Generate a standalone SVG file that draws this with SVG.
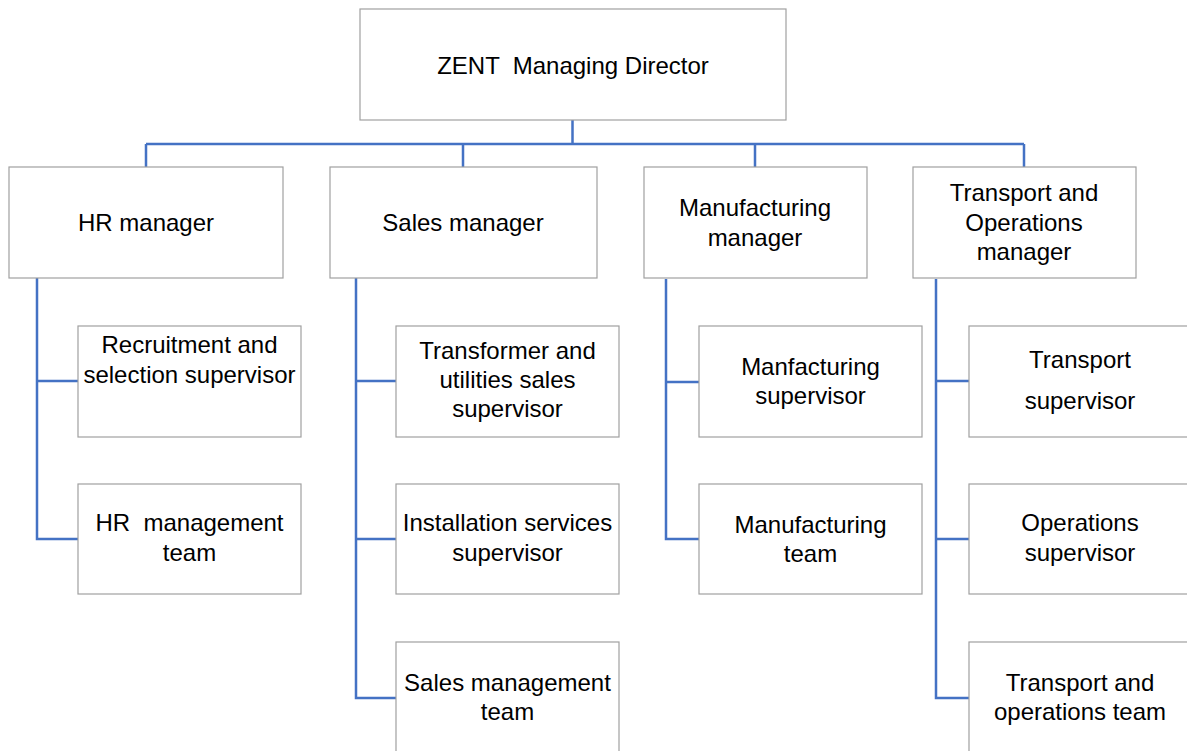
<svg xmlns="http://www.w3.org/2000/svg" width="1187" height="751" viewBox="0 0 1187 751">
<style>
.box{fill:#ffffff;stroke:#a0a0a0;stroke-width:1.2}
.conn{fill:none;stroke:#4472c4;stroke-width:2.5}
text{font-family:"Liberation Sans",Arial,sans-serif;font-size:24px;fill:#000;text-anchor:middle;white-space:pre}
</style>
<rect width="1187" height="751" fill="#ffffff"/>
<g id="connectors">
<path class="conn" d="M572.5 120V144M146 144H1024M146 144V167M463 144V167M755 144V167M1024 144V167"/>
<path class="conn" d="M37 278V539H78M37 381H78"/>
<path class="conn" d="M356 278V698H396M356 381H396M356 539H396"/>
<path class="conn" d="M666 279V539H699M666 382H699"/>
<path class="conn" d="M936 279V698H969M936 381H969M936 539H969"/>
</g>
<g id="md"><rect class="box" x="360" y="9" width="426" height="111"/><text x="573" y="74" xml:space="preserve">ZENT  Managing Director</text></g>
<g id="hr"><rect class="box" x="9" y="167" width="274" height="111"/><text x="146" y="231">HR manager</text></g>
<g id="sales"><rect class="box" x="330" y="167" width="267" height="111"/><text x="463" y="231">Sales manager</text></g>
<g id="manuf"><rect class="box" x="644" y="167" width="223" height="111"/><text x="755" y="216">Manufacturing</text><text x="755" y="246">manager</text></g>
<g id="transport"><rect class="box" x="913" y="167" width="223" height="111"/><text x="1024" y="201">Transport and</text><text x="1024" y="231">Operations</text><text x="1024" y="260">manager</text></g>
<g id="recruit"><rect class="box" x="78" y="326" width="223" height="111"/><text x="189.5" y="353">Recruitment and</text><text x="189.5" y="383">selection supervisor</text></g>
<g id="hrteam"><rect class="box" x="78" y="484" width="223" height="110"/><text x="189.5" y="531" xml:space="preserve">HR  management</text><text x="189.5" y="561">team</text></g>
<g id="transformer"><rect class="box" x="396" y="326" width="223" height="111"/><text x="507.5" y="359">Transformer and</text><text x="507.5" y="388">utilities sales</text><text x="507.5" y="417">supervisor</text></g>
<g id="install"><rect class="box" x="396" y="484" width="223" height="110"/><text x="507.5" y="531">Installation services</text><text x="507.5" y="561">supervisor</text></g>
<g id="salesteam"><rect class="box" x="396" y="642" width="223" height="115"/><text x="507.5" y="691">Sales management</text><text x="507.5" y="720">team</text></g>
<g id="manfsup"><rect class="box" x="699" y="326" width="223" height="111"/><text x="810.5" y="375">Manfacturing</text><text x="810.5" y="404">supervisor</text></g>
<g id="manfteam"><rect class="box" x="699" y="484" width="223" height="110"/><text x="810.5" y="533">Manufacturing</text><text x="810.5" y="562">team</text></g>
<g id="transsup"><rect class="box" x="969" y="326" width="223" height="111"/><text x="1080" y="368">Transport</text><text x="1080" y="409">supervisor</text></g>
<g id="opsup"><rect class="box" x="969" y="484" width="223" height="110"/><text x="1080" y="531">Operations</text><text x="1080" y="561">supervisor</text></g>
<g id="opteam"><rect class="box" x="969" y="642" width="223" height="115"/><text x="1080" y="691">Transport and</text><text x="1080" y="720">operations team</text></g>
</svg>
